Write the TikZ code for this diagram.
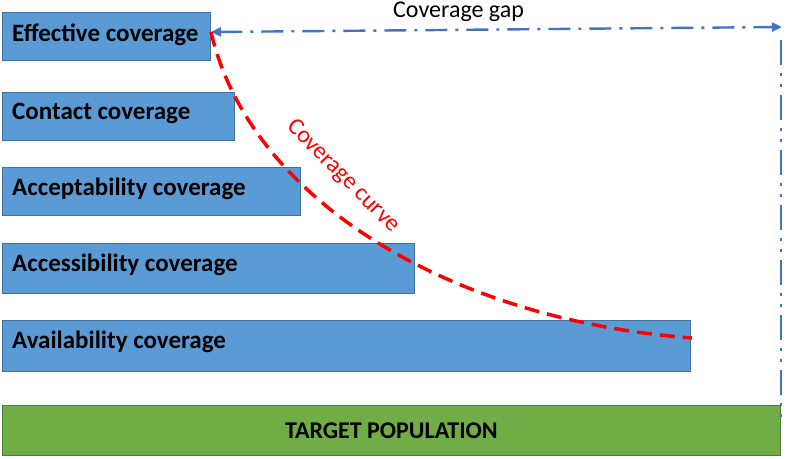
\documentclass[tikz,border=0pt]{standalone}
\usepackage{fontspec}
\setmainfont{Carlito}
\usetikzlibrary{arrows.meta}
\definecolor{barblue}{HTML}{5B9BD5}
\definecolor{barblueedge}{HTML}{41719C}
\definecolor{bargreen}{HTML}{70AD47}
\definecolor{bargreenedge}{HTML}{507E32}
\definecolor{gapblue}{HTML}{4472C4}
\tikzset{
  bar/.style={draw=barblueedge, fill=barblue, line width=0.8pt, anchor=north west, inner sep=0pt, minimum height=48pt},
  targetbar/.style={draw=bargreenedge, fill=bargreen, line width=0.8pt, anchor=north west, inner sep=0pt},
  barlabel/.style={anchor=west, inner sep=0pt, font=\fontsize{25}{29}\selectfont\bfseries, text=black},
  gapline/.style={draw=gapblue, line width=2.4pt},
  curveline/.style={draw=red, line width=3.5pt, dash pattern=on 15pt off 8pt},
}
\begin{document}
\begin{tikzpicture}[x=1pt,y=-1pt]
\useasboundingbox (0,0) rectangle (786,458);
% bars
\node[bar, minimum width=208pt] (eff) at (2,12) {};
\node[bar, minimum width=232pt] (con) at (2,92) {};
\node[bar, minimum width=298pt] (acc) at (2,167) {};
\node[bar, minimum width=412pt, minimum height=50pt] (acs) at (2,243) {};
\node[bar, minimum width=688pt, minimum height=51pt] (ava) at (2,320) {};
\node[targetbar, minimum width=778pt, minimum height=50pt] (tgt) at (2,405) {};
% labels
\node[barlabel] (efft) at (12,35) {Effective coverage};
\node[barlabel] (cont) at (12,113) {Contact coverage};
\node[barlabel] (acct) at (12,189) {Acceptability coverage};
\node[barlabel] (acst) at (12,265) {Accessibility coverage};
\node[barlabel] (avat) at (12,342) {Availability coverage};
\node[inner sep=0pt, font=\fontsize{24}{28}\selectfont\bfseries] (tgtt) at (tgt.center) {TARGET POPULATION};
% coverage gap
\coordinate (gapL) at (211,32);
\coordinate (gapR) at (782,27);
\coordinate (vtop) at (781,40);
\coordinate (vbot) at (781,420);
\draw[gapline, dash pattern=on 22pt off 8pt on 3pt off 8pt,
      {Triangle[length=10pt,width=9pt]}-{Triangle[length=10pt,width=9pt]}] (gapL) -- (gapR);
\draw[gapline, dash pattern=on 25pt off 8pt on 3pt off 8pt on 3pt off 8pt] (vtop) -- (vbot);
\node[anchor=base west, inner sep=0pt, font=\fontsize{24}{28}\selectfont] (gapt) at (393,17) {Coverage gap};
% coverage curve
\coordinate (cend) at (692,338);
\draw[curveline] (gapL) .. controls (250,200) and (450,320) .. (cend);
\node[text=red, rotate=-45, inner sep=0pt, font=\fontsize{24}{28}\selectfont] (curvet) at (343,176) {Coverage curve};
\end{tikzpicture}
\end{document}
